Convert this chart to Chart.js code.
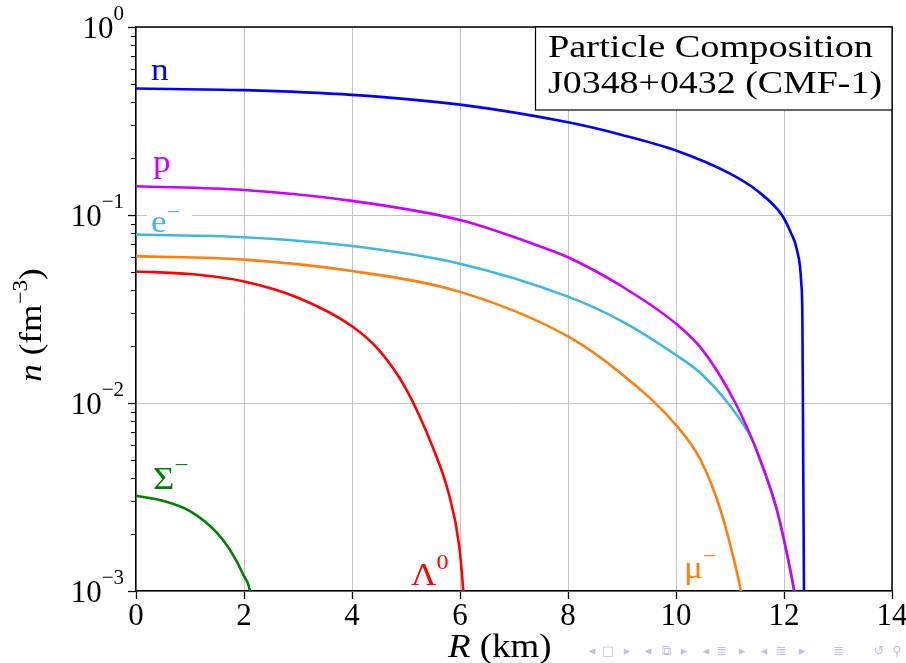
<!DOCTYPE html>
<html>
<head>
<meta charset="utf-8">
<title>Particle Composition</title>
<script src="https://cdn.jsdelivr.net/npm/chart.js@4.4.0/dist/chart.umd.min.js"></script>
<style>
  html, body { margin: 0; padding: 0; background: #fff; }
  #wrap { width: 906px; height: 663px; }
</style>
</head>
<body>
<div id="wrap"><canvas id="chart" width="906" height="663"></canvas></div>
<script>
// radius (km) and number density (fm^-3)
const nR = [0, 2, 4, 6, 8, 9, 10, 11, 11.5, 11.96, 12.13, 12.24, 12.32, 12.34, 12.35, 12.37, 12.38];
const nVal = [0.471, 0.4613, 0.4355, 0.3864, 0.3112, 0.2667, 0.2203, 0.166, 0.1349, 0.1, 0.0802, 0.0652, 0.0434, 0.0288, 0.010, 0.001, 0.0008];

const pR = [0, 2, 4, 6, 7.55, 8, 9, 10, 10.5, 11.1, 11.53, 11.87, 12.09, 12.19, 12.25];
const pVal = [0.1422, 0.1358, 0.1189, 0.094, 0.067, 0.0596, 0.0417, 0.0264, 0.019, 0.0100, 0.00525, 0.00269, 0.00141, 0.0010, 0.0008];

const eR = [0, 2, 4, 6, 8, 9, 10, 10.45, 10.96, 11.43, 11.53, 11.87, 12.09, 12.19, 12.25];
const eVal = [0.0787, 0.0762, 0.0684, 0.0551, 0.0368, 0.0272, 0.018, 0.01445, 0.0100, 0.00624, 0.00525, 0.00269, 0.00141, 0.0010, 0.0008];

const muR = [0, 2, 4, 6, 8, 9, 10, 10.45, 10.82, 11.1, 11.2, 11.25];
const muVal = [0.0604, 0.0579, 0.0504, 0.039, 0.0226, 0.0142, 0.00764, 0.00501, 0.00272, 0.00136, 0.0010, 0.0008];

const lamR = [0, 1, 2, 3, 4, 4.5, 5, 5.5, 5.79, 5.98, 6.06, 6.09];
const lamVal = [0.0501, 0.0485, 0.0443, 0.0363, 0.0256, 0.0191, 0.0119, 0.00577, 0.00331, 0.00178, 0.001, 0.0007];

const sigR = [0, 0.5, 1, 1.5, 1.75, 2, 2.11, 2.15];
const sigVal = [0.00321, 0.00302, 0.00266, 0.00204, 0.00164, 0.0012, 0.001, 0.0008];

const xTicks = [0, 2, 4, 6, 8, 10, 12, 14];
const yTickExp = [0, -1, -2, -3];

const SERIF = '"Liberation Serif", "Times New Roman", serif';
const GRID = '#c4c4c4';

function pts(xs, ys) {
  return xs.map((x, i) => ({ x: x, y: ys[i] }));
}

function series(label, xs, ys, color) {
  return { label: label, data: pts(xs, ys), borderColor: color, backgroundColor: color };
}

function font(p) {
  return (p.italic ? 'italic ' : '') + p.size + 'px ' + SERIF;
}

// draw a run of text pieces (for superscripts), stretched by sx
function drawParts(ctx, parts, x, y, align, sx, color) {
  ctx.save();
  ctx.translate(x, y);
  ctx.scale(sx, 1);
  ctx.fillStyle = color;
  ctx.textBaseline = 'alphabetic';
  ctx.textAlign = 'left';
  let w = 0;
  parts.forEach(p => { ctx.font = font(p); w += ctx.measureText(p.t).width; });
  let cx = align === 'center' ? -w / 2 : align === 'right' ? -w : 0;
  parts.forEach(p => {
    ctx.font = font(p);
    ctx.fillText(p.t, cx, p.dy || 0);
    cx += ctx.measureText(p.t).width;
  });
  ctx.restore();
}

function fitText(ctx, text, x, y, size, width) {
  ctx.save();
  ctx.font = size + 'px ' + SERIF;
  const w = ctx.measureText(text).width;
  ctx.translate(x, y);
  ctx.scale(width / w, 1);
  ctx.fillStyle = '#000';
  ctx.textBaseline = 'alphabetic';
  ctx.textAlign = 'left';
  ctx.fillText(text, 0, 0);
  ctx.restore();
}

const decor = {
  id: 'decor',
  afterDraw(chart) {
    const ctx = chart.ctx;
    const a = chart.chartArea;
    const xs = chart.scales.x;
    const ys = chart.scales.y;

    // frame top and right
    ctx.save();
    ctx.strokeStyle = '#000';
    ctx.lineWidth = 1.5;
    ctx.beginPath();
    ctx.moveTo(a.left, a.top);
    ctx.lineTo(a.right, a.top);
    ctx.lineTo(a.right, a.bottom);
    ctx.stroke();

    // minor log ticks
    ctx.lineWidth = 1.2;
    ctx.beginPath();
    for (let e = -3; e < 0; e++) {
      for (let m = 2; m <= 9; m++) {
        const py = Math.round(ys.getPixelForValue(m * Math.pow(10, e))) + 0.5;
        ctx.moveTo(a.left - 5, py);
        ctx.lineTo(a.left, py);
      }
    }
    ctx.stroke();
    ctx.restore();

    // y tick labels 10^k
    yTickExp.forEach(k => {
      const py = ys.getPixelForValue(Math.pow(10, k));
      const ex = k === 0 ? '0' : '\u2212' + (-k);
      drawParts(ctx, [
        { t: '10', size: 31 },
        { t: ex, size: 21, dy: -18 }
      ], 124, py + 11, 'right', 1, '#000');
    });

    // x tick labels
    xTicks.forEach(v => {
      drawParts(ctx, [{ t: String(v), size: 31 }], xs.getPixelForValue(v), 625, 'center', 1, '#000');
    });

    // axis titles
    drawParts(ctx, [
      { t: 'R', size: 33, italic: true },
      { t: ' (km)', size: 33 }
    ], 448, 657, 'left', 1.12, '#000');

    ctx.save();
    ctx.translate(41, 325);
    ctx.rotate(-Math.PI / 2);
    drawParts(ctx, [
      { t: 'n', size: 32, italic: true },
      { t: ' (fm', size: 32 },
      { t: '\u22123', size: 21, dy: -14 },
      { t: ')', size: 32 }
    ], 0, 0, 'center', 1.1, '#000');
    ctx.restore();

    // species labels
    drawParts(ctx, [{ t: 'n', size: 32 }], 151, 80, 'left', 1.1, '#0000ff');
    drawParts(ctx, [{ t: 'p', size: 32 }], 153, 172, 'left', 1.1, '#cc00ff');
    ctx.fillStyle = '#fff';
    ctx.fillRect(147, 205, 45, 26);
    drawParts(ctx, [{ t: 'e', size: 32 }, { t: '\u2212', size: 22, dy: -13 }], 151, 232, 'left', 1.1, '#3cb8e4');
    drawParts(ctx, [{ t: '\u03a3', size: 32 }, { t: '\u2212', size: 22, dy: -17 }], 153, 489, 'left', 1.15, '#008000');
    drawParts(ctx, [{ t: '\u039b', size: 32 }, { t: '0', size: 22, dy: -16 }], 411, 585, 'left', 1.1, '#ff0000');
    drawParts(ctx, [{ t: '\u03bc', size: 32 }, { t: '\u2212', size: 22, dy: -15 }], 684, 578, 'left', 1.1, '#ff7f0e');

    // title box
    ctx.save();
    ctx.fillStyle = '#fff';
    ctx.fillRect(535, a.top, a.right - 535, 110 - a.top);
    ctx.strokeStyle = '#000';
    ctx.lineWidth = 1.2;
    ctx.strokeRect(535.5, a.top, a.right - 535.5, 110 - a.top);
    ctx.restore();
    fitText(ctx, 'Particle Composition', 548, 57, 32, 325);
    fitText(ctx, 'J0348+0432 (CMF-1)', 548, 93, 32, 334);

    // beamer navigation symbols
    ctx.save();
    ctx.fillStyle = 'rgba(140,140,210,0.55)';
    ctx.font = '13px "DejaVu Sans"';
    ctx.textBaseline = 'middle';
    ctx.textAlign = 'center';
    const nav = [['\u25c2', 592], ['\u25a1', 608], ['\u25b8', 627], ['\u25c2', 648], ['\u29c9', 666], ['\u25b8', 684],
      ['\u25c2', 706], ['\u2263', 722], ['\u25b8', 742], ['\u25c2', 764], ['\u2263', 781], ['\u25b8', 802],
      ['\u2263', 839], ['\u21ba', 879], ['\u26b2', 897]];
    nav.forEach(n => ctx.fillText(n[0], n[1], 652));
    ctx.restore();
  }
};

const chart = new Chart(document.getElementById('chart').getContext('2d'), {
  type: 'line',
  data: {
    datasets: [
      series('n', nR, nVal, '#0000ff'),
      series('p', pR, pVal, '#cc00ff'),
      series('e-', eR, eVal, '#3cb8e4'),
      series('mu-', muR, muVal, '#ff7f0e'),
      series('Lambda0', lamR, lamVal, '#ff0000'),
      series('Sigma-', sigR, sigVal, '#008000')
    ]
  },
  options: {
    responsive: false,
    animation: false,
    layout: { padding: { top: 27, right: 14, left: 0, bottom: 0 } },
    plugins: { legend: { display: false }, tooltip: { enabled: false } },
    elements: {
      point: { radius: 0 },
      line: { borderWidth: 2.6, cubicInterpolationMode: 'monotone', capBezierPoints: false }
    },
    scales: {
      x: {
        type: 'linear',
        min: 0,
        max: 14,
        afterBuildTicks: s => { s.ticks = xTicks.map(v => ({ value: v })); },
        afterFit: s => { s.height = 72; },
        ticks: { display: false },
        grid: { color: GRID, lineWidth: 1, tickColor: '#000', tickLength: 8, tickWidth: 1.3 },
        border: { display: true, color: '#000', width: 1.5 }
      },
      y: {
        type: 'logarithmic',
        min: 1e-3,
        max: 1,
        afterBuildTicks: s => { s.ticks = yTickExp.map(e => ({ value: Math.pow(10, e) })); },
        afterFit: s => { s.width = 136; },
        ticks: { display: false },
        grid: { color: GRID, lineWidth: 1, tickColor: '#000', tickLength: 8, tickWidth: 1.3 },
        border: { display: true, color: '#000', width: 1.5 }
      }
    }
  },
  plugins: [decor]
});
</script>
</body>
</html>
